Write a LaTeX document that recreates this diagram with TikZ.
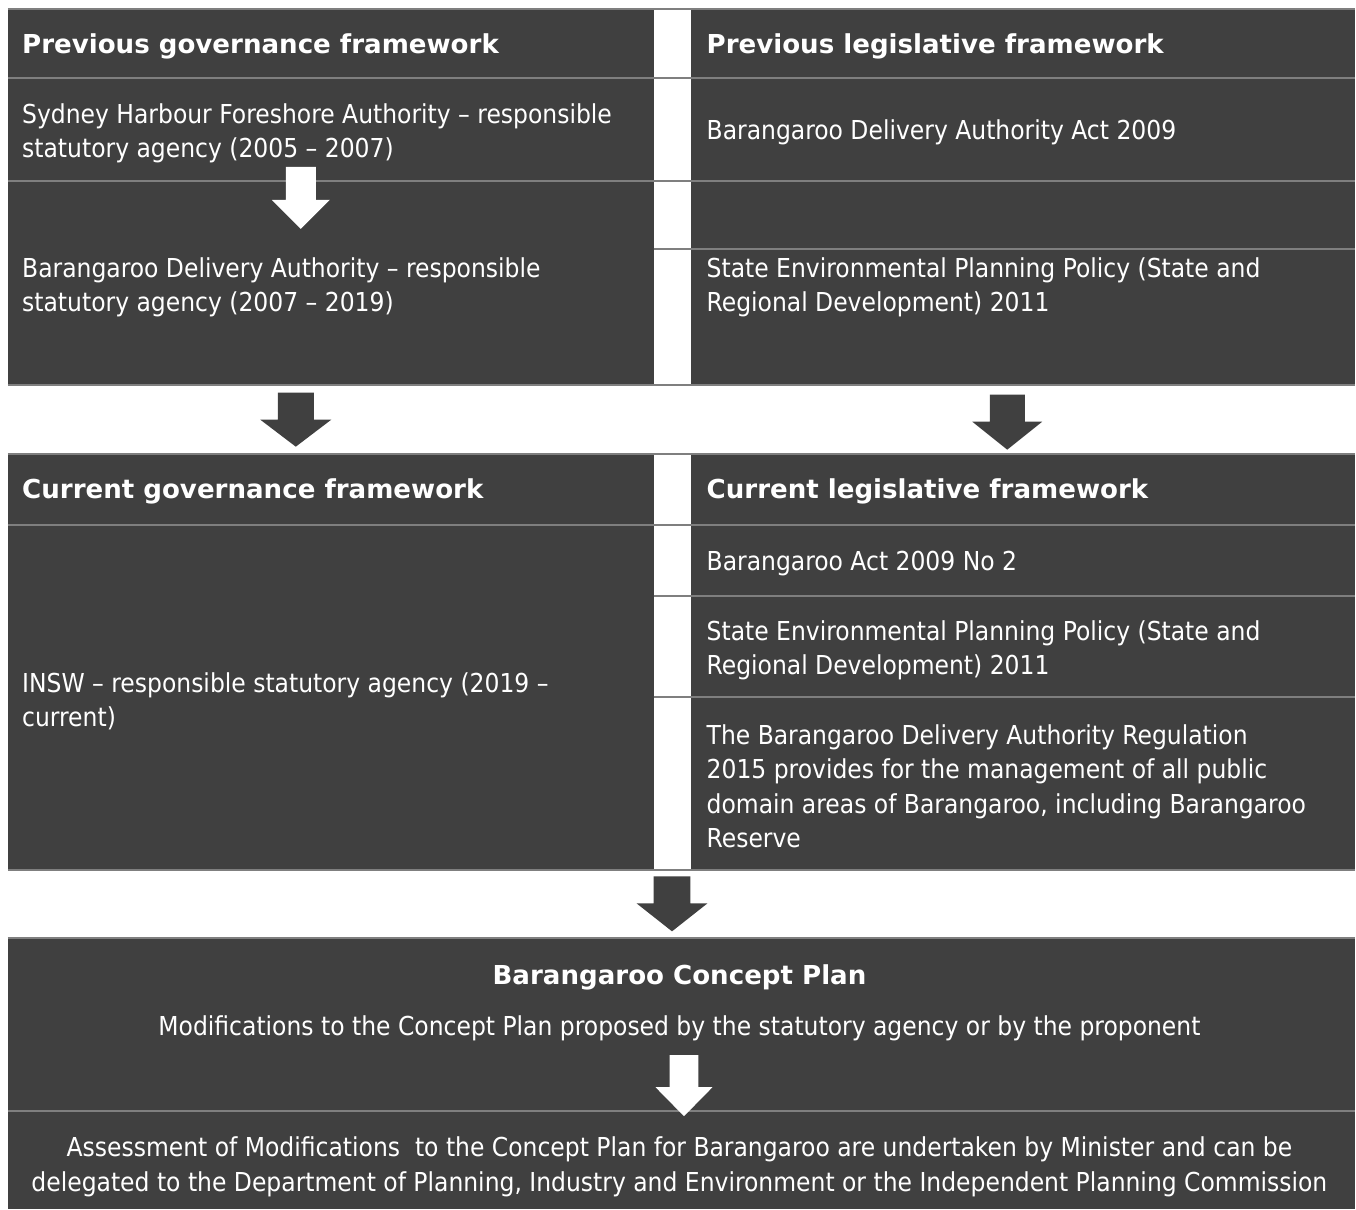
\documentclass[tikz,border=0pt]{standalone}
\usepackage{fontspec}
\setmainfont{DejaVu Sans Condensed}
\newfontfamily\headfont{DejaVu Sans}
\definecolor{cellgrey}{HTML}{404040}
\definecolor{rulegrey}{HTML}{7F7F7F}
\newcommand\bodyfont{\fontsize{26.1}{34.4}\selectfont}
\def\blockarrow[#1](#2,#3)(#4:#5:#6:#7){\fill[#1] ({#2-#4},#3) -- ({#2+#4},#3) -- ({#2+#4},{#3+#6}) -- ({#2+#5},{#3+#6}) -- (#2,{#3+#6+#7}) -- ({#2-#5},{#3+#6}) -- ({#2-#4},{#3+#6}) -- cycle;}
\tikzset{
	cell/.style={fill=cellgrey},
	rule/.style={draw=rulegrey, line width=2pt},
	hd/.style={anchor=base west, inner sep=0pt, text=white, font=\bodyfont\headfont\bfseries},
	txt/.style={anchor=base west, inner sep=0pt, text=white, align=left, font=\bodyfont},
	mid/.style={anchor=base, inner sep=0pt, text=white, align=center, font=\bodyfont},
}

\begin{document}
\begin{tikzpicture}[x=1pt, y=-1pt]
			%%%%% START %%%%%
			
			\fill[white] (0, 0) rectangle (1356, 1210);
			
			% previous frameworks
			\fill[cell] (8, 9) rectangle (654, 385);
			\fill[cell] (692, 9) rectangle (1356, 385);
			\draw[rule] (8, 9) -- (1356, 9);
			\draw[rule] (8, 78) -- (1356, 78);
			\draw[rule] (8, 181) -- (1356, 181);
			\draw[rule] (654, 249) -- (1356, 249);
			\draw[rule] (8, 385) -- (1356, 385);
			
			% multi-line nodes sit on the baseline of their last line
			\node[hd] (hdPrevGov) at (22, 54) {Previous governance framework};
			\node[hd] (hdPrevLeg) at (707, 54) {Previous legislative framework};
			\node[txt] (shfa) at (22, 158) {Sydney Harbour Foreshore Authority -- responsible\\statutory agency (2005 -- 2007)};
			\node[txt] (bdaAct) at (707, 140) {Barangaroo Delivery Authority Act 2009};
			\node[txt] (bda) at (22, 312) {Barangaroo Delivery Authority -- responsible\\statutory agency (2007 -- 2019)};
			\node[txt] (seppOld) at (707, 312) {State Environmental Planning Policy (State and\\Regional Development) 2011};
			
			\blockarrow[white](301, 167)(15:29:33:29)
			\blockarrow[cellgrey](296, 393)(18:35.5:27:27)
			\blockarrow[cellgrey](1008, 395)(17.5:35:27:28)
			
			% current frameworks
			\fill[cell] (8, 454) rectangle (654, 871);
			\fill[cell] (692, 454) rectangle (1356, 871);
			\draw[rule] (8, 454) -- (1356, 454);
			\draw[rule] (8, 525) -- (1356, 525);
			\draw[rule] (654, 596) -- (1356, 596);
			\draw[rule] (654, 698) -- (1356, 698);
			\draw[rule] (8, 871) -- (1356, 871);
			
			\node[hd] (hdCurGov) at (22, 499) {Current governance framework};
			\node[hd] (hdCurLeg) at (707, 499) {Current legislative framework};
			\node[txt] (insw) at (22, 727) {INSW -- responsible statutory agency (2019 --\\current)};
			\node[txt] (barAct) at (707, 571) {Barangaroo Act 2009 No 2};
			\node[txt] (seppNew) at (707, 675) {State Environmental Planning Policy (State and\\Regional Development) 2011};
			\node[txt] (bdaReg) at (707, 848) {The Barangaroo Delivery Authority Regulation\\2015 provides for the management of all public\\domain areas of Barangaroo, including Barangaroo\\Reserve};
			
			\blockarrow[cellgrey](672.5, 877)(18.5:35.5:27:28)
			
			% concept plan
			\fill[cell] (8, 939) rectangle (1356, 1210);
			\draw[rule] (8, 939) -- (1356, 939);
			\draw[rule] (8, 1112) -- (1356, 1112);
			
			\node[mid, font=\bodyfont\headfont\bfseries] (concept) at (680, 985) {Barangaroo Concept Plan};
			\node[mid] (modif) at (680, 1036) {Modifications to the Concept Plan proposed by the statutory agency or by the proponent};
			\node[mid] (assess) at (680, 1192) {Assessment of Modifications\ \ to the Concept Plan for Barangaroo are undertaken by Minister and can be\\delegated to the Department of Planning, Industry and Environment or the Independent Planning Commission};
			
			\blockarrow[white](684.5, 1056)(14.5:28.5:32:29)
			
			%%%%% END %%%%%
\end{tikzpicture}
\end{document}
